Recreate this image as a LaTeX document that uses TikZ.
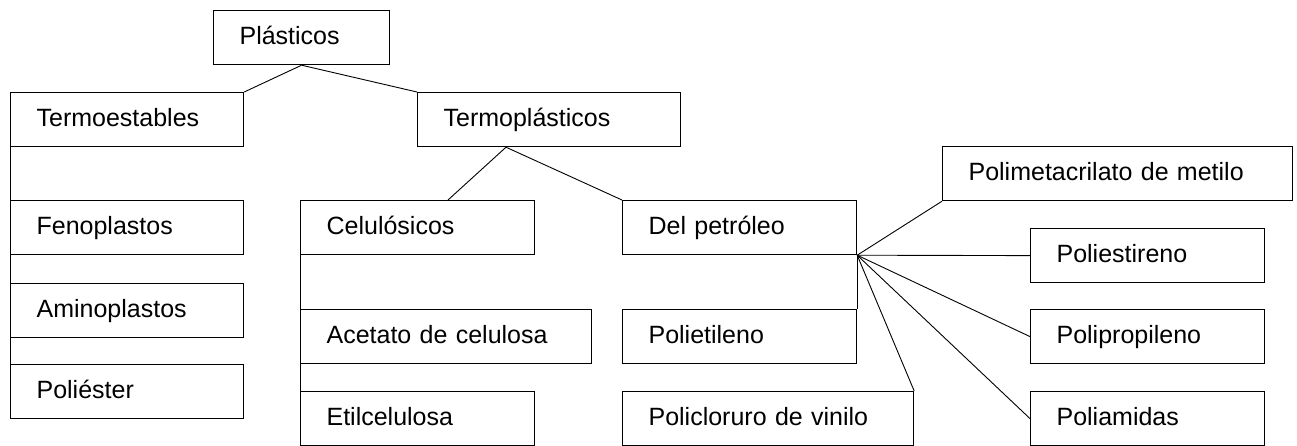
\documentclass[tikz,border=0pt]{standalone}
\usepackage{fontspec}
\setmainfont{Liberation Sans}
\usepackage{tikz}

\tikzset{
  caja/.style={draw, rectangle, anchor=north west, line width=1.2pt,
    inner xsep=26pt, inner ysep=0pt, minimum height=54pt,
    text height=18pt, text depth=5pt, align=left,
    font=\fontsize{25}{30}\selectfont},
  linea/.style={line width=0.9pt}
}

\begin{document}
\begin{tikzpicture}[x=1pt,y=-1pt]
        \useasboundingbox (0,0) rectangle (1297,445);
        % nivel 1 y 2
        \node[caja, text width=124pt] (p) at (213,10) {Plásticos};
        \node[caja, text width=181pt] (te) at (10,92) {Termoestables};
        \node[caja, text width=211pt] (tp) at (417,92) {Termoplásticos};

        % termoestables
        \node[caja, text width=181pt] (fe) at (10,200) {Fenoplastos};
        \node[caja, text width=181pt] (am) at (10,283) {Aminoplastos};
        \node[caja, text width=181pt] (po) at (10,364) {Poliéster};

        % termoplasticos
        \node[caja, text width=182pt] (ce) at (300,200) {Celulósicos};
        \node[caja, text width=239pt] (ac) at (300,309) {Acetato de celulosa};
        \node[caja, text width=182pt] (et) at (300,391) {Etilcelulosa};
        \node[caja, text width=182pt] (dp) at (622,200) {Del petróleo};
        \node[caja, text width=182pt] (pe) at (622,309) {Polietileno};
        \node[caja, text width=239pt] (pv) at (622,391) {Policloruro de vinilo};
        \node[caja, text width=298pt] (pm) at (942,146) {Polimetacrilato de metilo};
        \node[caja, text width=182pt] (ps) at (1030,228) {Poliestireno};
        \node[caja, text width=182pt] (pp) at (1030,309) {Polipropileno};
        \node[caja, text width=182pt] (pa) at (1030,391) {Poliamidas};

        \draw[linea] (p.south) -- (te.north east);
        \draw[linea] (p.south) -- (tp.north west);
        \draw[linea] (te.south west) -- (po.north west);

        \draw[linea] ([xshift=89pt]tp.south west) -- ([xshift=148pt]ce.north west);
        \draw[linea] ([xshift=89pt]tp.south west) -- (dp.north west);
        \draw[linea] (ce.south west) -- (et.north west);
        \draw[linea] (dp.south east) -- (pe.north east);

        \draw[linea] (dp.south east) -- (pm.south west);
        \draw[linea] (dp.south east) -- (ps.west);
        \draw[linea] (dp.south east) -- (pp.west);
        \draw[linea] (dp.south east) -- (pa.west);
        \draw[linea] (dp.south east) -- (pv.north east);
\end{tikzpicture}
\end{document}
